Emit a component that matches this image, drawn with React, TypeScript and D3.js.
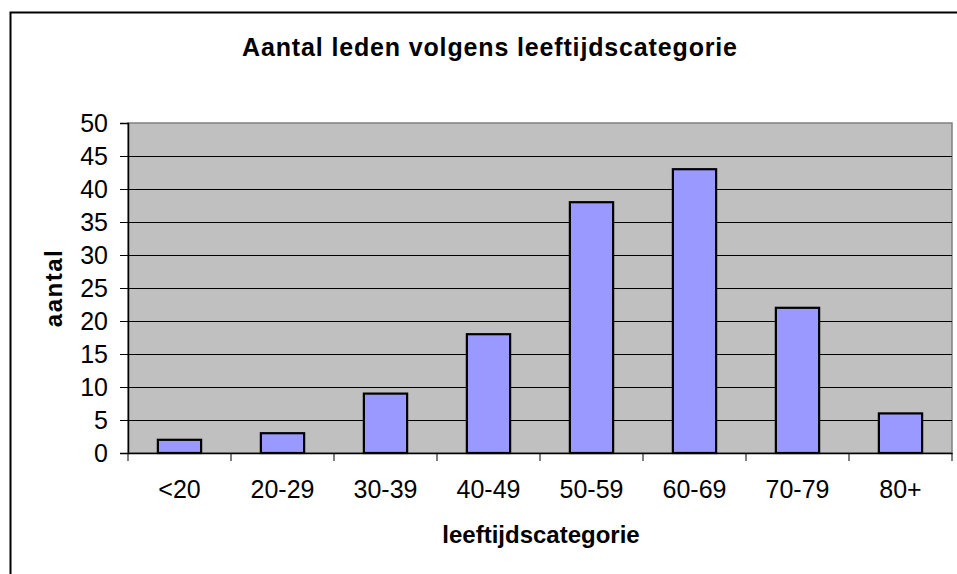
import { useEffect, useRef } from "react";
import * as d3 from "d3";

const categories = ["<20", "20-29", "30-39", "40-49", "50-59", "60-69", "70-79", "80+"];
const aantal = [2, 3, 9, 18, 38, 43, 22, 6];
const yTicks = [0, 5, 10, 15, 20, 25, 30, 35, 40, 45, 50];

export default function App() {
  const ref = useRef<SVGSVGElement>(null);

  useEffect(() => {
    const svg = d3.select(ref.current);
    svg.selectAll("*").remove();

    const margin = { left: 128, top: 123, right: 5, bottom: 121 };
    const width = 957;
    const height = 574;
    const innerW = width - margin.left - margin.right;
    const innerH = height - margin.top - margin.bottom;
    const font = "'Liberation Sans', Arial, sans-serif";

    // outer chart frame
    svg.append("rect")
      .attr("x", 10.5).attr("y", 12.5)
      .attr("width", 960).attr("height", 600)
      .attr("fill", "#fff").attr("stroke", "#000").attr("stroke-width", 2);

    svg.append("text")
      .text("Aantal leden volgens leeftijdscategorie")
      .attr("x", 490).attr("y", 56)
      .attr("text-anchor", "middle")
      .attr("letter-spacing", 0.85)
      .attr("font-family", font).attr("font-weight", "bold").attr("font-size", 25);

    const x = d3.scaleBand().domain(categories).range([0, innerW]);
    const y = d3.scaleLinear().domain([0, 50]).range([innerH, 0]);

    const g = svg.append("g").attr("transform", `translate(${margin.left},${margin.top})`);

    g.append("rect")
      .attr("width", innerW).attr("height", innerH)
      .attr("fill", "#c0c0c0").attr("stroke", "#808080").attr("stroke-width", 1.5);

    // gridlines
    g.selectAll("line.grid")
      .data(yTicks.filter(d => d > 0 && d < 50))
      .join("line")
      .attr("x1", 0).attr("x2", innerW)
      .attr("y1", d => Math.round(y(d)) + 0.5).attr("y2", d => Math.round(y(d)) + 0.5)
      .attr("stroke", "#000").attr("stroke-width", 1);

    const barW = x.bandwidth() * 0.42;
    g.selectAll("rect.bar")
      .data(aantal)
      .join("rect")
      .attr("x", (d, i) => x(categories[i])! + (x.bandwidth() - barW) / 2)
      .attr("y", d => y(d))
      .attr("width", barW)
      .attr("height", d => innerH - y(d))
      .attr("fill", "#9999ff").attr("stroke", "#000").attr("stroke-width", 2.2);

    const yAxis = g.append("g")
      .call(d3.axisLeft(y).tickValues(yTicks).tickSize(8).tickPadding(12));
    const xAxis = g.append("g")
      .attr("transform", `translate(0,${innerH})`)
      .call(d3.axisBottom(x).tickSize(0).tickPadding(27));

    // x tick marks at category boundaries
    g.selectAll("line.xtick")
      .data(d3.range(categories.length + 1))
      .join("line")
      .attr("x1", i => i * x.step()).attr("x2", i => i * x.step())
      .attr("y1", innerH).attr("y2", innerH + 8)
      .attr("stroke", "#000");

    [yAxis, xAxis].forEach(a => {
      a.select(".domain").attr("stroke", "#000").attr("stroke-width", 1.5);
      a.selectAll(".tick line").attr("stroke", "#000");
      a.selectAll(".tick text")
        .attr("fill", "#000")
        .attr("font-family", font).attr("font-size", 25);
    });
    yAxis.selectAll(".tick text").attr("dy", "0.35em");

    svg.append("text")
      .text("leeftijdscategorie")
      .attr("x", 541).attr("y", 543)
      .attr("text-anchor", "middle")
      .attr("font-family", font).attr("font-weight", "bold").attr("font-size", 24);

    svg.append("text")
      .text("aantal")
      .attr("transform", `translate(62,${margin.top + innerH / 2}) rotate(-90)`)
      .attr("text-anchor", "middle")
      .attr("letter-spacing", 1.5)
      .attr("font-family", font).attr("font-weight", "bold").attr("font-size", 24);
  }, []);

  return (
    <svg ref={ref} width={957} height={574}
      style={{ position: "absolute", left: 0, top: 0, display: "block" }} />
  );
}
